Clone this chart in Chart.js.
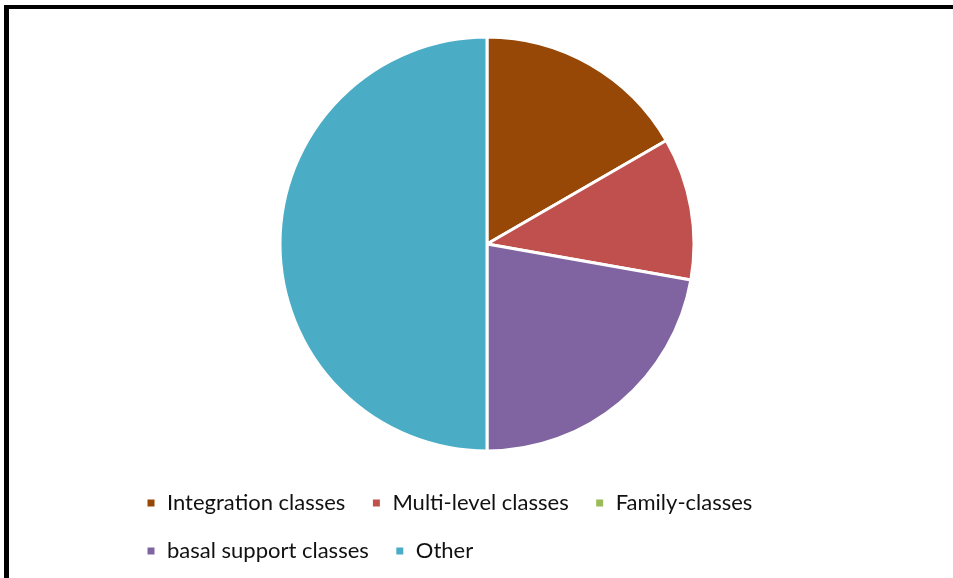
<!DOCTYPE html>
<html>
<head>
<meta charset="utf-8">
<script src="https://cdn.jsdelivr.net/npm/chart.js@4"></script>
<style>
  html,body{margin:0;padding:0;background:#fff;overflow:hidden;}
  #wrap{position:relative;width:953px;height:578px;overflow:hidden;}
  #frameTop{position:absolute;left:4px;top:5px;width:960px;height:4px;background:#000;}
  #frameLeft{position:absolute;left:4px;top:5px;width:5px;height:600px;background:#000;}
  #chartBox{position:absolute;left:0;top:0;width:953px;height:578px;}
</style>
</head>
<body>
<div id="wrap">
  <div id="frameTop"></div>
  <div id="frameLeft"></div>
  <div id="chartBox"><canvas id="chart0"></canvas></div>
</div>
<script>
// Categories and values (counts, out of 18)
const labels = ['Integration classes','Multi-level classes','Family-classes','basal support classes','Other'];
const values = [3, 2, 0, 4, 9];
const colors = ['#974706','#C0504D','#9BBB59','#8064A2','#4BACC6'];

const ctx = document.getElementById('chart0').getContext('2d');
new Chart(ctx, {
  type:'pie',
  data:{ labels:labels, datasets:[{ data:values, backgroundColor:colors, borderColor:'#fff', borderWidth:3, radius:207 }] },
  options:{
    responsive:true,
    maintainAspectRatio:false,
    animation:false,
    layout:{ padding:{ top:22, left:120, right:99, bottom:6 } },
    plugins:{
      tooltip:{ enabled:false },
      legend:{
        position:'bottom',
        align:'start',
        labels:{
          boxWidth:10, boxHeight:10, padding:26,
          color:'#111',
          font:{ family:'Lato, "Liberation Sans", sans-serif', size:22 }
        }
      }
    }
  }
});
</script>
</body>
</html>
